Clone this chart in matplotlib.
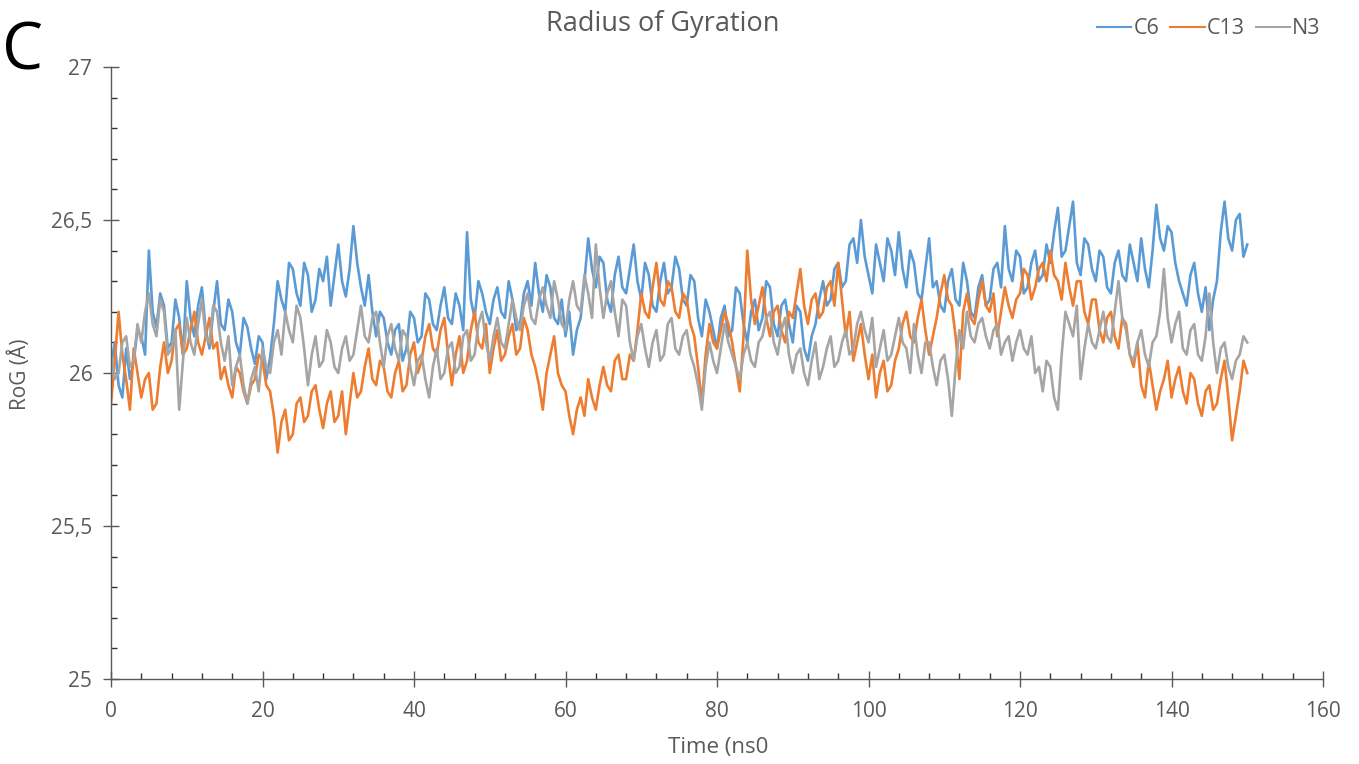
import matplotlib.pyplot as plt
import numpy as np
from matplotlib.ticker import MultipleLocator, FixedLocator

plt.rcParams["font.family"] = ["Open Sans", "DejaVu Sans"]

# ── Data: radius of gyration (Å) sampled every 0.5 ns, one row = 5 ns ────────
time_ns = np.arange(0, 150.5, 0.5)

rog_c6 = [
    26.02, 26.10, 25.96, 25.92, 26.08, 25.98, 26.04, 26.14, 26.12, 26.06,
    26.40, 26.20, 26.15, 26.26, 26.22, 26.08, 26.10, 26.24, 26.18, 26.06,
    26.30, 26.18, 26.12, 26.22, 26.28, 26.14, 26.08, 26.20, 26.30, 26.16,
    26.14, 26.24, 26.20, 26.10, 26.06, 26.18, 26.15, 26.08, 26.03, 26.12,
    26.10, 25.98, 26.05, 26.16, 26.30, 26.24, 26.20, 26.36, 26.34, 26.26,
    26.22, 26.36, 26.32, 26.20, 26.24, 26.34, 26.30, 26.38, 26.22, 26.32,
    26.42, 26.30, 26.25, 26.34, 26.48, 26.36, 26.28, 26.22, 26.32, 26.20,
    26.12, 26.20, 26.18, 26.10, 26.06, 26.14, 26.16, 26.04, 26.08, 26.20,
    26.18, 26.10, 26.12, 26.26, 26.24, 26.16, 26.14, 26.22, 26.28, 26.18,
    26.16, 26.26, 26.22, 26.14, 26.46, 26.24, 26.18, 26.30, 26.26, 26.20,
    26.16, 26.24, 26.28, 26.20, 26.18, 26.30, 26.24, 26.14, 26.16, 26.26,
    26.30, 26.22, 26.36, 26.26, 26.20, 26.32, 26.28, 26.18, 26.16, 26.24,
    26.12, 26.20, 26.06, 26.14, 26.18, 26.30, 26.44, 26.34, 26.28, 26.38,
    26.36, 26.24, 26.20, 26.32, 26.38, 26.28, 26.26, 26.34, 26.42, 26.30,
    26.24, 26.36, 26.32, 26.22, 26.20, 26.30, 26.36, 26.26, 26.28, 26.38,
    26.34, 26.24, 26.22, 26.32, 26.30, 26.18, 26.12, 26.24, 26.20, 26.14,
    26.08, 26.18, 26.22, 26.12, 26.14, 26.28, 26.26, 26.16, 26.10, 26.20,
    26.24, 26.14, 26.18, 26.30, 26.28, 26.16, 26.12, 26.22, 26.24, 26.16,
    26.10, 26.22, 26.20, 26.08, 26.04, 26.12, 26.16, 26.24, 26.30, 26.22,
    26.24, 26.34, 26.36, 26.28, 26.30, 26.42, 26.44, 26.36, 26.50, 26.38,
    26.32, 26.26, 26.42, 26.36, 26.30, 26.44, 26.40, 26.32, 26.46, 26.34,
    26.28, 26.40, 26.36, 26.26, 26.24, 26.34, 26.44, 26.28, 26.30, 26.22,
    26.20, 26.30, 26.34, 26.24, 26.22, 26.36, 26.30, 26.20, 26.18, 26.28,
    26.32, 26.22, 26.24, 26.34, 26.36, 26.28, 26.48, 26.34, 26.30, 26.40,
    26.38, 26.26, 26.28, 26.36, 26.40, 26.30, 26.32, 26.42, 26.36, 26.46,
    26.54, 26.38, 26.40, 26.48, 26.56, 26.36, 26.32, 26.44, 26.42, 26.34,
    26.30, 26.40, 26.38, 26.28, 26.26, 26.36, 26.40, 26.32, 26.30, 26.42,
    26.36, 26.30, 26.44, 26.34, 26.28, 26.40, 26.55, 26.44, 26.40, 26.48,
    26.46, 26.36, 26.30, 26.26, 26.22, 26.32, 26.36, 26.26, 26.20, 26.28,
    26.14, 26.24, 26.30, 26.46, 26.56, 26.44, 26.40, 26.50, 26.52, 26.38,
    26.42,
]

rog_c13 = [
    25.90, 26.04, 26.20, 26.06, 25.98, 25.88, 26.08, 26.00, 25.92, 25.98,
    26.00, 25.88, 25.90, 26.02, 26.10, 26.00, 26.04, 26.14, 26.16, 26.06,
    26.08, 26.14, 26.20, 26.10, 26.06, 26.12, 26.18, 26.08, 26.10, 25.98,
    26.02, 25.96, 25.92, 26.02, 26.00, 25.94, 25.90, 25.96, 25.98, 26.06,
    26.04, 25.96, 25.94, 25.86, 25.74, 25.84, 25.88, 25.78, 25.80, 25.90,
    25.92, 25.84, 25.86, 25.94, 25.96, 25.88, 25.82, 25.90, 25.94, 25.84,
    25.86, 25.94, 25.80, 25.90, 26.00, 25.92, 25.94, 26.02, 26.08, 25.98,
    25.96, 26.04, 26.02, 25.94, 25.92, 26.00, 26.04, 25.94, 25.96, 26.06,
    26.10, 26.00, 26.04, 26.12, 26.16, 26.08, 26.06, 26.14, 26.18, 26.06,
    25.96, 26.06, 26.12, 26.00, 26.04, 26.14, 26.20, 26.10, 26.08, 26.16,
    26.00, 26.08, 26.14, 26.04, 26.06, 26.12, 26.16, 26.06, 26.08, 26.18,
    26.14, 26.06, 26.02, 25.96, 25.88, 26.00, 26.06, 26.12, 26.00, 25.96,
    25.94, 25.86, 25.80, 25.88, 25.92, 25.86, 25.98, 25.92, 25.88, 25.96,
    26.02, 25.96, 25.94, 26.04, 26.06, 25.98, 25.98, 26.06, 26.04, 26.14,
    26.26, 26.20, 26.18, 26.28, 26.36, 26.24, 26.22, 26.30, 26.28, 26.20,
    26.18, 26.26, 26.24, 26.16, 26.12, 26.02, 25.90, 26.06, 26.16, 26.10,
    26.08, 26.14, 26.20, 26.16, 26.10, 26.02, 25.94, 26.12, 26.40, 26.24,
    26.16, 26.22, 26.28, 26.18, 26.12, 26.20, 26.22, 26.14, 26.10, 26.20,
    26.18, 26.26, 26.34, 26.22, 26.16, 26.24, 26.26, 26.18, 26.20, 26.28,
    26.30, 26.22, 26.36, 26.24, 26.12, 26.20, 26.04, 26.10, 26.16, 26.06,
    25.98, 26.06, 25.92, 26.00, 26.04, 25.94, 25.96, 26.04, 26.08, 26.16,
    26.20, 26.12, 26.10, 26.18, 26.24, 26.14, 26.06, 26.12, 26.18, 26.26,
    26.32, 26.24, 26.22, 26.12, 25.98, 26.20, 26.26, 26.18, 26.16, 26.24,
    26.30, 26.22, 26.20, 26.26, 26.12, 26.20, 26.28, 26.22, 26.18, 26.24,
    26.26, 26.34, 26.32, 26.24, 26.28, 26.34, 26.36, 26.30, 26.40, 26.32,
    26.30, 26.24, 26.36, 26.28, 26.22, 26.30, 26.30, 26.20, 26.16, 26.24,
    26.24, 26.14, 26.10, 26.18, 26.20, 26.12, 26.08, 26.18, 26.16, 26.06,
    26.02, 26.10, 25.96, 25.92, 26.04, 25.96, 25.88, 25.94, 25.98, 26.04,
    25.92, 25.98, 26.02, 25.94, 25.90, 26.00, 25.98, 25.90, 25.86, 25.94,
    25.96, 25.88, 25.90, 25.98, 26.04, 25.92, 25.78, 25.86, 25.94, 26.04,
    26.00,
]

rog_n3 = [
    26.06, 25.98, 26.00, 26.10, 26.12, 26.02, 26.04, 26.16, 26.10, 26.20,
    26.26, 26.16, 26.12, 26.24, 26.20, 26.06, 26.08, 26.14, 25.88, 26.04,
    26.18, 26.10, 26.06, 26.16, 26.24, 26.12, 26.10, 26.22, 26.20, 26.10,
    26.04, 26.12, 25.96, 26.02, 26.06, 25.96, 25.90, 25.98, 26.02, 25.94,
    26.08, 26.02, 26.00, 26.10, 26.14, 26.06, 26.20, 26.14, 26.10, 26.22,
    26.18, 26.08, 25.96, 26.06, 26.12, 26.02, 26.04, 26.14, 26.10, 26.02,
    26.00, 26.08, 26.12, 26.04, 26.06, 26.14, 26.22, 26.12, 26.10, 26.18,
    26.20, 26.10, 26.02, 26.12, 26.16, 26.08, 26.04, 26.14, 26.12, 26.02,
    25.96, 26.04, 26.06, 25.98, 25.92, 26.02, 26.08, 25.98, 26.00, 26.08,
    26.10, 26.00, 26.02, 26.12, 26.14, 26.04, 26.06, 26.16, 26.20, 26.10,
    26.04, 26.12, 26.18, 26.10, 26.08, 26.16, 26.24, 26.18, 26.14, 26.22,
    26.26, 26.18, 26.16, 26.24, 26.28, 26.22, 26.18, 26.30, 26.24, 26.16,
    26.14, 26.24, 26.30, 26.22, 26.20, 26.32, 26.26, 26.18, 26.42, 26.28,
    26.18, 26.26, 26.30, 26.20, 26.12, 26.24, 26.22, 26.10, 26.04, 26.12,
    26.16, 26.08, 26.02, 26.10, 26.14, 26.04, 26.06, 26.16, 26.18, 26.08,
    26.06, 26.12, 26.14, 26.06, 26.02, 25.96, 25.88, 26.02, 26.10, 26.04,
    26.00, 26.08, 26.16, 26.10, 26.06, 26.02, 25.98, 26.06, 26.10, 26.04,
    26.02, 26.10, 26.12, 26.18, 26.20, 26.10, 26.06, 26.14, 26.18, 26.06,
    26.00, 26.06, 26.08, 26.00, 25.96, 26.04, 26.10, 25.98, 26.02, 26.08,
    26.12, 26.02, 26.04, 26.10, 26.14, 26.06, 26.08, 26.16, 26.20, 26.14,
    26.10, 26.18, 26.02, 26.08, 26.14, 26.04, 26.06, 26.12, 26.18, 26.10,
    26.08, 26.00, 26.16, 26.06, 26.00, 26.10, 26.10, 26.02, 25.96, 26.04,
    26.06, 25.98, 25.86, 26.02, 26.14, 26.08, 26.20, 26.12, 26.10, 26.16,
    26.18, 26.12, 26.08, 26.14, 26.16, 26.06, 26.10, 26.12, 26.04, 26.10,
    26.14, 26.08, 26.06, 26.12, 26.00, 26.02, 25.94, 26.04, 26.02, 25.92,
    25.88, 26.06, 26.20, 26.16, 26.12, 26.22, 25.98, 26.08, 26.16, 26.10,
    26.08, 26.14, 26.20, 26.12, 26.10, 26.20, 26.30, 26.18, 26.14, 26.06,
    26.04, 26.10, 26.14, 26.06, 26.02, 26.10, 26.12, 26.20, 26.34, 26.18,
    26.10, 26.16, 26.20, 26.08, 26.06, 26.14, 26.16, 26.06, 26.04, 26.12,
    26.26, 26.10, 26.00, 26.08, 26.10, 26.02, 25.98, 26.04, 26.06, 26.12,
    26.10,
]

series_names  = ["C6", "C13", "N3"]
series_colors = ["#5B9BD5", "#ED7D31", "#A5A5A5"]

y_ticks      = [25, 25.5, 26, 26.5, 27]
y_ticklabels = ["25", "25,5", "26", "26,5", "27"]
x_ticks      = [0, 20, 40, 60, 80, 100, 120, 140, 160]

AXIS_COLOR = "#595959"
TEXT_COLOR = "#595959"

# ── Figure ───────────────────────────────────────────────────────────────────
W, H = 1359, 764
fig = plt.figure(figsize=(W / 100, H / 100), dpi=100)
ax = fig.add_axes([111 / W, 1 - 679 / H, (1323 - 111) / W, (679 - 67) / H])

for name, vals, color in zip(series_names, [rog_c6, rog_c13, rog_n3], series_colors):
    ax.plot(time_ns, vals, color=color, linewidth=1.9, label=name)

ax.set_xlim(0, 160)
ax.set_ylim(25, 27)
ax.xaxis.set_major_locator(FixedLocator(x_ticks))
ax.xaxis.set_minor_locator(MultipleLocator(4))
ax.yaxis.set_major_locator(FixedLocator(y_ticks))
ax.yaxis.set_minor_locator(MultipleLocator(0.1))
ax.set_yticklabels(y_ticklabels)

for side in ["top", "right"]:
    ax.spines[side].set_visible(False)
for side in ["left", "bottom"]:
    ax.spines[side].set_color(AXIS_COLOR)
    ax.spines[side].set_linewidth(1.0)

ax.tick_params(which="major", direction="inout", length=11, width=1.0,
               color=AXIS_COLOR, labelcolor=TEXT_COLOR, labelsize=15)
ax.tick_params(which="minor", direction="in", length=4.5, width=1.0,
               color="#333333")
ax.tick_params(axis="y", which="major", pad=8)
ax.tick_params(axis="x", which="major", pad=10)

fig.text(663 / W, 1 - 24 / H, "Radius of Gyration", ha="center", va="center",
         fontsize=19.5, color=TEXT_COLOR)
fig.text(718 / W, 1 - 748 / H, "Time (ns0", ha="center", va="center",
         fontsize=16, color=TEXT_COLOR)
fig.text(20 / W, 1 - 374 / H, "RoG (Å)", ha="center", va="center",
         rotation=90, fontsize=15, color=TEXT_COLOR)
fig.text(2 / W, 1 - 53 / H, "C", ha="left", va="center",
         fontsize=47, color="black")

leg = fig.legend(loc="center right", bbox_to_anchor=(1340 / W, 1 - 29 / H),
                 ncol=3, frameon=False, fontsize=15.5, handlelength=1.6,
                 handletextpad=0.1, columnspacing=0.5)
for text in leg.get_texts():
    text.set_color(TEXT_COLOR)
for line in leg.get_lines():
    line.set_linewidth(1.5)

fig.savefig("out.png", dpi=100)
